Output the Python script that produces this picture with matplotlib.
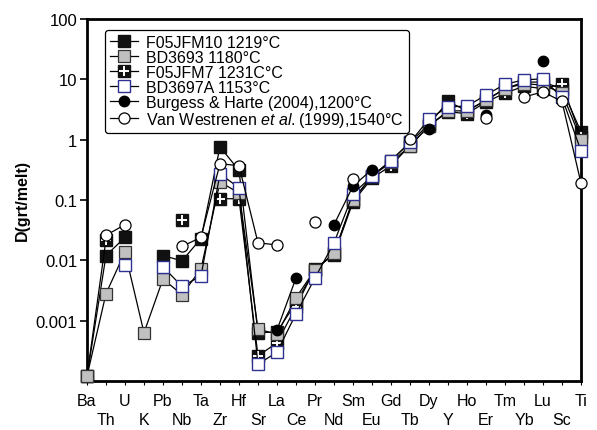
import numpy as np
import matplotlib
matplotlib.use("Agg")
import matplotlib.pyplot as plt
from matplotlib.ticker import NullLocator

plt.rcParams['font.family'] = ['Liberation Sans', 'DejaVu Sans']
plt.rcParams['mathtext.fontset'] = 'custom'
plt.rcParams['mathtext.rm'] = 'Liberation Sans'
plt.rcParams['mathtext.it'] = 'Liberation Sans:italic'

nan = np.nan
elements = ['Ba', 'Th', 'U', 'K', 'Pb', 'Nb', 'Ta', 'Zr', 'Hf', 'Sr', 'La', 'Ce', 'Pr', 'Nd',
            'Sm', 'Eu', 'Gd', 'Tb', 'Dy', 'Y', 'Ho', 'Er', 'Tm', 'Yb', 'Lu', 'Sc', 'Ti']

# D(grt/melt)
f05jfm10 = [1.2e-4, 0.012, 0.024, nan, 0.012, 0.0098, 0.023, 0.76, 0.31, 0.00063, 0.00065, 0.002,
            0.007, 0.013, 0.1, 0.25, 0.45, 0.9, 1.8, 4.3, 3.0, 4.5, 7.0, 9.0, 9.0, 7.0, 1.35]
bd3693 = [1.2e-4, 0.0028, 0.0137, 0.00063, 0.0049, 0.0027, 0.0072, 0.2, 0.13, 0.00072, 0.0006, 0.0024,
          0.007, 0.013, 0.1, 0.25, 0.42, 0.78, 1.7, 3.0, 3.0, 4.5, 7.0, 8.5, 8.0, 6.0, 1.0]
f05jfm7 = [1.2e-4, 0.022, nan, nan, nan, 0.047, nan, 0.105, 0.105, 0.00026, 0.00043, 0.0017,
           0.0073, 0.0123, 0.093, 0.23, 0.37, 0.8, 1.7, 2.9, 2.7, 4.2, 5.9, 7.7, 7.0, 8.3, 1.1]
bd3697a = [nan, nan, 0.0083, nan, 0.0078, 0.0037, 0.0055, 0.27, 0.16, 0.00019, 0.0003, 0.0013,
           0.0051, 0.0195, 0.126, 0.25, 0.45, 0.9, 2.2, 3.5, 3.6, 5.5, 8.3, 9.8, 10.2, 5.0, 0.65]
burgess = [nan, nan, nan, nan, nan, nan, nan, nan, nan, nan, 0.0007, 0.0051,
           nan, 0.039, 0.17, 0.32, nan, nan, 1.5, nan, nan, 2.6, nan, nan, 20.0, nan, nan]
westrenen = [nan, 0.026, 0.039, nan, nan, 0.017, 0.024, 0.40, 0.37, 0.0195, 0.018, nan,
             0.044, nan, 0.22, nan, nan, 1.02, nan, nan, nan, 2.3, nan, 5.1, 6.2, 4.3, 0.19]

labels = ['F05JFM10 1219\u00b0C', 'BD3693 1180\u00b0C', 'F05JFM7 1231C\u00b0C', 'BD3697A 1153\u00b0C',
          'Burgess & Harte (2004),1200\u00b0C', 'Van Westrenen $\\it{et\\ al.}$(1999),1540\u00b0C']

x = np.arange(len(elements))

fig = plt.figure(figsize=(5.97, 4.31), dpi=100)
ax = fig.add_axes([0.1457, 0.1137, 0.8275, 0.8399])

lw = 0.9
ms = 8
kw = dict(lw=lw, clip_on=False)
h1, = ax.plot(x, f05jfm10, '-s', color='black', mfc='#111111', mec='#111111', ms=ms, zorder=2, **kw)
h3a, = ax.plot(x, f05jfm7, '-s', color='black', mfc='#111111', mec='#111111', ms=ms, zorder=3, **kw)
h3b, = ax.plot(x, f05jfm7, '+', color='white', ms=6.5, mew=1.4, ls='none', zorder=3, clip_on=False)
h2, = ax.plot(x, bd3693, '-s', color='black', mfc='#c0c0c0', mec='#333333', ms=ms, mew=0.9, zorder=4, **kw)
h4, = ax.plot(x, bd3697a, '-s', color='black', mfc='white', mec='#2e3192', ms=ms, mew=1.0, zorder=5, **kw)
h5, = ax.plot(x, burgess, '-o', color='black', mfc='black', mec='black', ms=7.5, zorder=6, **kw)
h6, = ax.plot(x, westrenen, '-o', color='black', mfc='white', mec='black', ms=8, mew=0.9, zorder=7, **kw)

ax.set_yscale('log')
ax.set_ylim(1e-4, 100)
ax.set_xlim(0, len(elements) - 1)
ax.set_yticks([0.001, 0.01, 0.1, 1, 10, 100])
ax.set_yticklabels(['0.001', '0.01', '0.1', '1', '10', '100'])
ax.yaxis.set_minor_locator(NullLocator())

# two rows of element labels: even positions on top, odd ones below
ax.set_xticks(x[::2])
ax.set_xticklabels(elements[::2])
ax.set_xticks(x[1::2], minor=True)
ax.set_xticklabels(elements[1::2], minor=True)
ax.tick_params(axis='y', direction='out', length=5, width=1.2, labelsize=12, pad=2)
ax.tick_params(axis='x', which='both', direction='out', length=3, width=0.8, labelsize=11.5)
ax.tick_params(axis='x', which='major', pad=6)
ax.tick_params(axis='x', which='minor', pad=19)
for s in ax.spines.values():
    s.set_linewidth(2)
ax.set_ylabel('D(grt/melt)', fontsize=11.5, fontweight='bold', labelpad=4)

leg = ax.legend([h1, h2, (h3a, h3b), h4, h5, h6], labels, loc='upper left',
                bbox_to_anchor=(0.036, 0.97), borderaxespad=0, fontsize=11.5,
                labelspacing=0.0, handlelength=1.8, handletextpad=0.5,
                borderpad=0.3, frameon=True, fancybox=True, framealpha=1)
leg.get_frame().set_edgecolor('black')
leg.get_frame().set_linewidth(0.9)

fig.savefig('out.png', dpi=100)
